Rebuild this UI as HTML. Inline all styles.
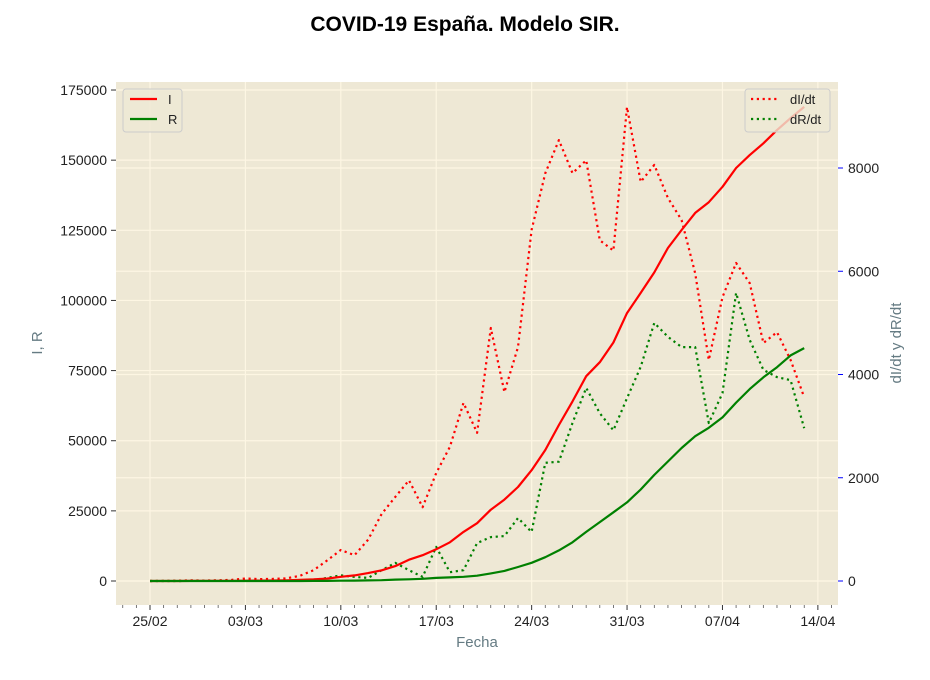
<!DOCTYPE html>
<html><head><meta charset="utf-8"><style>
body{margin:0;background:#fff}
svg{display:block;font-family:"Liberation Sans","DejaVu Sans",sans-serif}
</style></head><body>
<svg id="chart" width="930" height="680" xmlns="http://www.w3.org/2000/svg">
<rect width="930" height="680" fill="#fff"/>
<text x="465" y="31" text-anchor="middle" font-size="21" font-weight="bold" fill="#000">COVID-19 España. Modelo SIR.</text>
<rect x="116" y="82" width="722" height="523" fill="#eee8d5"/>
<g id="grid"></g>
<g id="series"></g>
<g id="axes"></g>
<text x="477" y="647" text-anchor="middle" font-size="15" fill="#657b83">Fecha</text>
<text transform="translate(42,343) rotate(-90)" text-anchor="middle" font-size="15" fill="#657b83">I, R</text>
<text transform="translate(901,343) rotate(-90)" text-anchor="middle" font-size="15" fill="#657b83">dI/dt y dR/dt</text>
<g>
<rect x="123" y="89" width="59" height="43" rx="3" fill="#eee8d5" fill-opacity="0.8" stroke="#ccc"/>
<line x1="130" y1="99" x2="157" y2="99" stroke="red" stroke-width="2.2"/>
<text x="168" y="104" font-size="13" fill="#222">I</text>
<line x1="130" y1="119" x2="157" y2="119" stroke="green" stroke-width="2.2"/>
<text x="168" y="124" font-size="13" fill="#222">R</text>
</g>
<g>
<rect x="745" y="89" width="85" height="43" rx="3" fill="#eee8d5" fill-opacity="0.8" stroke="#ccc"/>
<line x1="751" y1="99" x2="778" y2="99" stroke="red" stroke-width="2.2" stroke-dasharray="2.2,3.6"/>
<text x="790" y="104" font-size="13" fill="#222">dI/dt</text>
<line x1="751" y1="119" x2="778" y2="119" stroke="green" stroke-width="2.2" stroke-dasharray="2.2,3.6"/>
<text x="790" y="124" font-size="13" fill="#222">dR/dt</text>
</g>
</svg>
<script>
const xTickLabels=["25/02","03/03","10/03","17/03","24/03","31/03","07/04","14/04"];
const leftTicks=[0,25000,50000,75000,100000,125000,150000,175000];
const rightTicks=[0,2000,4000,6000,8000];
const seriesI=[2,6,12,25,32,45,66,114,150,190,240,380,560,850,1500,2000,2800,3800,5300,7600,9200,11300,13800,17500,20600,25400,29000,33500,39500,46700,55600,64000,73000,78000,85000,95500,102700,110000,118700,125100,131200,135000,140500,147200,151800,156000,160700,165000,169000];
const seriesR=[0,0,0,0,0,0,0,1,2,3,5,10,20,30,100,150,200,300,500,600,800,1100,1300,1500,1900,2700,3600,5000,6500,8500,10900,13800,17500,21000,24500,28000,32600,37800,42600,47400,51600,54600,58300,63600,68400,72600,76200,80400,83000];
const seriesDI=[0,2,6,13,7,13,21,48,36,40,50,100,210,400,600,500,800,1300,1630,1950,1430,2090,2600,3450,2870,4900,3660,4530,6800,7900,8540,7900,8150,6600,6400,9180,7730,8060,7420,6990,5960,4280,5500,6160,5770,4610,4820,4280,3560];
const seriesDR=[0,0,0,1,1,1,2,3,3,5,8,15,20,60,110,80,60,210,350,210,80,660,170,210,735,850,870,1220,950,2290,2310,3060,3740,3250,2920,3540,4150,5000,4730,4530,4530,3060,3640,5580,4670,4090,3950,3890,2960];
const NS='http://www.w3.org/2000/svg';
const X0=150,DX=13.63;
const xs=d=>X0+d*DX;
const yL=v=>581-v/25000*70.14;
const yR=v=>581-v/2000*103.25;
function mk(tag,attrs,parent){const e=document.createElementNS(NS,tag);for(const k in attrs)e.setAttribute(k,attrs[k]);parent.appendChild(e);return e;}
const grid=document.getElementById('grid'),axes=document.getElementById('axes'),series=document.getElementById('series');
xTickLabels.forEach((t,i)=>{const x=xs(i*7);
 const g=mk('line',{x1:x,x2:x,y1:82,y2:605,stroke:'#fdf6e3','stroke-width':1.2},grid);
 
 const tk=mk('line',{x1:x,x2:x,y1:605,y2:610,stroke:'#333'},axes);
 
 const tx=mk('text',{x:x,y:626,'text-anchor':'middle','font-size':14,fill:'#222'},axes);tx.textContent=t;
 });
for(let d=-2;d<=50;d++){if(d%7===0)continue;const x=xs(d);if(x<116||x>838)continue;
 const m=mk('line',{x1:x,x2:x,y1:605,y2:608,stroke:'#555','stroke-width':0.8},axes);
 }
leftTicks.forEach(v=>{const y=yL(v);
 const g=mk('line',{x1:116,x2:838,y1:y,y2:y,stroke:'#fdf6e3','stroke-width':1.2},grid);
 
 const tk=mk('line',{x1:111,x2:116,y1:y,y2:y,stroke:'#333'},axes);
 
 const tx=mk('text',{x:107,y:y+5,'text-anchor':'end','font-size':14,fill:'#222'},axes);tx.textContent=v;
 });
rightTicks.forEach(v=>{const y=yR(v);
 const g=mk('line',{x1:116,x2:838,y1:y,y2:y,stroke:'#fdf6e3','stroke-width':1.2},grid);
 
 const tk=mk('line',{x1:838,x2:843,y1:y,y2:y,stroke:'#0000ff'},axes);
 
 const tx=mk('text',{x:848,y:y+5,'text-anchor':'start','font-size':14,fill:'#222'},axes);tx.textContent=v;
 });
function line(arr,yf,color,dotted,name){const pts=arr.map((v,i)=>xs(i).toFixed(1)+','+yf(v).toFixed(1)).join(' ');
 const a={points:pts,fill:'none',stroke:color,'stroke-width':2.2,'stroke-linejoin':'round'};
 if(dotted)a['stroke-dasharray']='2.2,3.6';
 const p=mk('polyline',a,series);
 }
line(seriesDI,yR,'red',true,'series-di-dt');
line(seriesDR,yR,'green',true,'series-dr-dt');
line(seriesI,yL,'red',false,'series-i');
line(seriesR,yL,'green',false,'series-r');
</script>
</body></html>
